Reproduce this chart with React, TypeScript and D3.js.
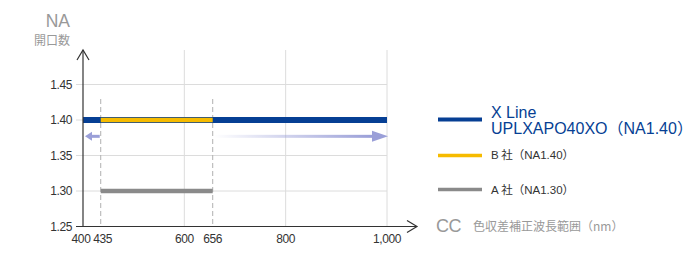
import React from "react";
import * as d3 from "d3";

const xTicks = [400, 435, 600, 656, 800, 1000];
const xGrid = [600, 800, 1000];
const yTicks = [1.25, 1.3, 1.35, 1.4, 1.45];
const ccRange = [435, 656];
const xLineRange = [400, 1000];
const xLineNA = 1.4;
const bRange = [435, 656];
const bNA = 1.4;
const aRange = [435, 656];
const aNA = 1.3;
const arrowNA = 1.377;

const BLUE = "#063f94";
const YELLOW = "#f6bb00";
const GRAY = "#8a8a8a";
const LAV = "#9a9fd8";
const FONT = "'Liberation Sans', Arial, sans-serif";
const CJK = "'Noto Sans CJK JP', 'Liberation Sans', sans-serif";

export default function App() {
  const x = d3.scaleLinear().domain([400, 1000]).range([83, 387]);
  const y = d3.scaleLinear().domain([1.25, 1.45]).range([226.5, 84.5]);
  const fmt = d3.format(",");
  const yb = y(1.25);
  const ay = y(arrowNA);
  return (
    <div style={{ position: "absolute", left: 0, top: 0 }}>
      <svg width={700} height={260} style={{ display: "block" }}>
        <defs>
          <linearGradient id="fade" x1="0" x2="1" y1="0" y2="0">
            <stop offset="0" stopColor={LAV} stopOpacity={0} />
            <stop offset="1" stopColor={LAV} stopOpacity={1} />
          </linearGradient>
        </defs>
        {/* grid */}
        {xGrid.map((v) => (
          <line key={"gx" + v} x1={x(v)} x2={x(v)} y1={50} y2={yb} stroke="#dcdcdc" strokeWidth={1} />
        ))}
        {yTicks.slice(1).map((v) => (
          <line key={"gy" + v} x1={76} x2={x(1000)} y1={y(v)} y2={y(v)} stroke="#dcdcdc" strokeWidth={1} />
        ))}
        {/* dashed cc lines */}
        {ccRange.map((v) => (
          <line key={"d" + v} x1={x(v)} x2={x(v)} y1={99} y2={yb} stroke="#b0b0b0" strokeWidth={1} strokeDasharray="5,3" />
        ))}
        {/* series */}
        <line x1={x(xLineRange[0])} x2={x(xLineRange[1])} y1={y(xLineNA)} y2={y(xLineNA)} stroke={BLUE} strokeWidth={6} />
        <line x1={x(bRange[0])} x2={x(bRange[1])} y1={y(bNA)} y2={y(bNA)} stroke={YELLOW} strokeWidth={4.5} />
        <line x1={x(aRange[0])} x2={x(aRange[1])} y1={y(aNA)} y2={y(aNA)} stroke={GRAY} strokeWidth={4.5} />
        {/* arrows */}
        <rect x={x(ccRange[1]) + 1} y={ay - 1.5} width={x(1000) - x(ccRange[1]) - 16} height={3} fill="url(#fade)" />
        <path d={`M${x(1000) + 1},${ay} L${x(1000) - 15},${ay - 5.5} L${x(1000) - 15},${ay + 5.5} Z`} fill={LAV} />
        <rect x={x(400) + 8} y={ay - 1.5} width={x(ccRange[0]) - x(400) - 9} height={3} fill={LAV} />
        <path d={`M${x(400) + 2},${ay} L${x(400) + 9},${ay - 4.5} L${x(400) + 9},${ay + 4.5} Z`} fill={LAV} />
        {/* axes */}
        <line x1={x(400)} x2={x(400)} y1={50} y2={yb} stroke="#333" strokeWidth={1.2} />
        <path d={`M${x(400) - 6},${60} L${x(400)},${50} L${x(400) + 6},${60}`} fill="none" stroke="#333" strokeWidth={1.2} />
        <line x1={76} x2={417} y1={yb} y2={yb} stroke="#333" strokeWidth={1.2} />
        <path d={`M${407},${yb - 6} L${417},${yb} L${407},${yb + 6}`} fill="none" stroke="#333" strokeWidth={1.2} />
        {/* tick labels */}
        {yTicks.map((v) => (
          <text key={"ty" + v} x={72} y={y(v) + 4} textAnchor="end" fontFamily={FONT} fontSize={12} fill="#333" letterSpacing={-0.4}>
            {v.toFixed(2)}
          </text>
        ))}
        {xTicks.map((v) => (
          <text key={"tx" + v} x={x(v) + (v === 400 ? -2 : v === 435 ? 2 : 0)} y={243} textAnchor="middle" fontFamily={FONT} fontSize={12} fill="#333" letterSpacing={-0.4}>
            {fmt(v)}
          </text>
        ))}
        {/* axis titles */}
        <text x={70} y={27} textAnchor="end" fontFamily={FONT} fontSize={17.5} fill="#999">NA</text>
        <text x={70} y={45} textAnchor="end" fontFamily={CJK} fontSize={12} fill="#999">開口数</text>
        <text x={436} y={232} fontFamily={FONT} fontSize={18} fill="#999" letterSpacing={-0.5}>CC</text>
        <text x={473} y={231} fontFamily={CJK} fontSize={12} fill="#999">色収差補正波長範囲（nm）</text>
        {/* legend */}
        <line x1={438} x2={482} y1={119.5} y2={119.5} stroke={BLUE} strokeWidth={4} />
        <text x={491} y={117.5} fontFamily={FONT} fontSize={16} fill={BLUE}>X Line</text>
        <text x={491} y={134} fontFamily={FONT} fontSize={16} fill={BLUE}>
          UPLXAPO40XO<tspan fontFamily={CJK}>（</tspan>NA1.40<tspan fontFamily={CJK}>）</tspan>
        </text>
        <line x1={438} x2={482} y1={155.5} y2={155.5} stroke={YELLOW} strokeWidth={3.5} />
        <text x={491} y={159} fontFamily={FONT} fontSize={11.5} fill="#333">
          B<tspan fontFamily={CJK}> 社（</tspan>NA1.40<tspan fontFamily={CJK}>）</tspan>
        </text>
        <line x1={438} x2={482} y1={189.5} y2={189.5} stroke={GRAY} strokeWidth={3.5} />
        <text x={491} y={194} fontFamily={FONT} fontSize={11.5} fill="#333">
          A<tspan fontFamily={CJK}> 社（</tspan>NA1.30<tspan fontFamily={CJK}>）</tspan>
        </text>
      </svg>
    </div>
  );
}
